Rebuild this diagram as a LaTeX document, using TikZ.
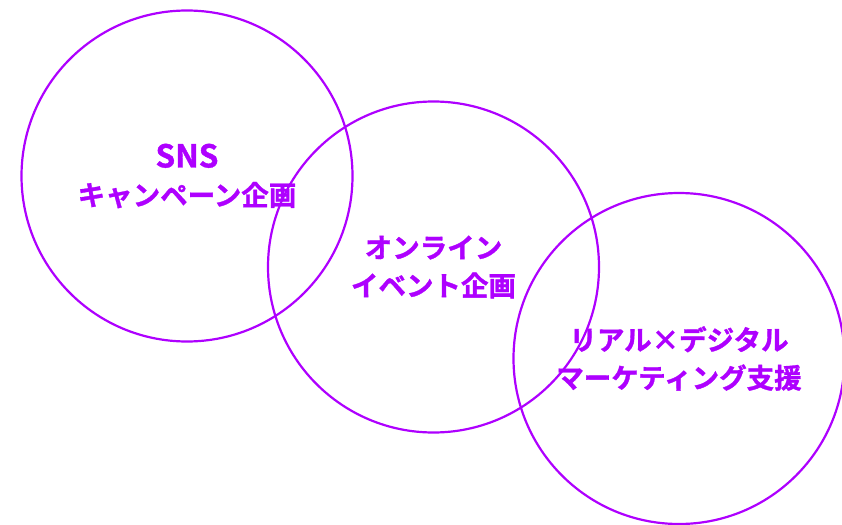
\documentclass[tikz,border=0pt]{standalone}
\usepackage{fontspec}
\setmainfont{Noto Sans CJK JP}[BoldFont={* Bold},BoldFeatures={FakeBold=1.2}]
\definecolor{vio}{HTML}{AE00FF}
\begin{document}
\begin{tikzpicture}[x=1pt,y=-1pt,
  ring/.style={circle,draw=vio,line width=2.2pt,minimum size=331pt,inner sep=0pt,
    text=vio,align=center,font=\fontsize{27.5pt}{38pt}\selectfont\bfseries}]
\useasboundingbox (0,0) rectangle (842,524);
\node[ring] (c1) at (187,176) {{\fontsize{31.5pt}{38pt}\selectfont SNS}\\キャンペーン企画};
\node[ring] (c2) at (433.5,267) {オンライン\\イベント企画};
\node[ring] (c3) at (679,358.5) {リアル×デジタル\\マーケティング支援};
\end{tikzpicture}
\end{document}
